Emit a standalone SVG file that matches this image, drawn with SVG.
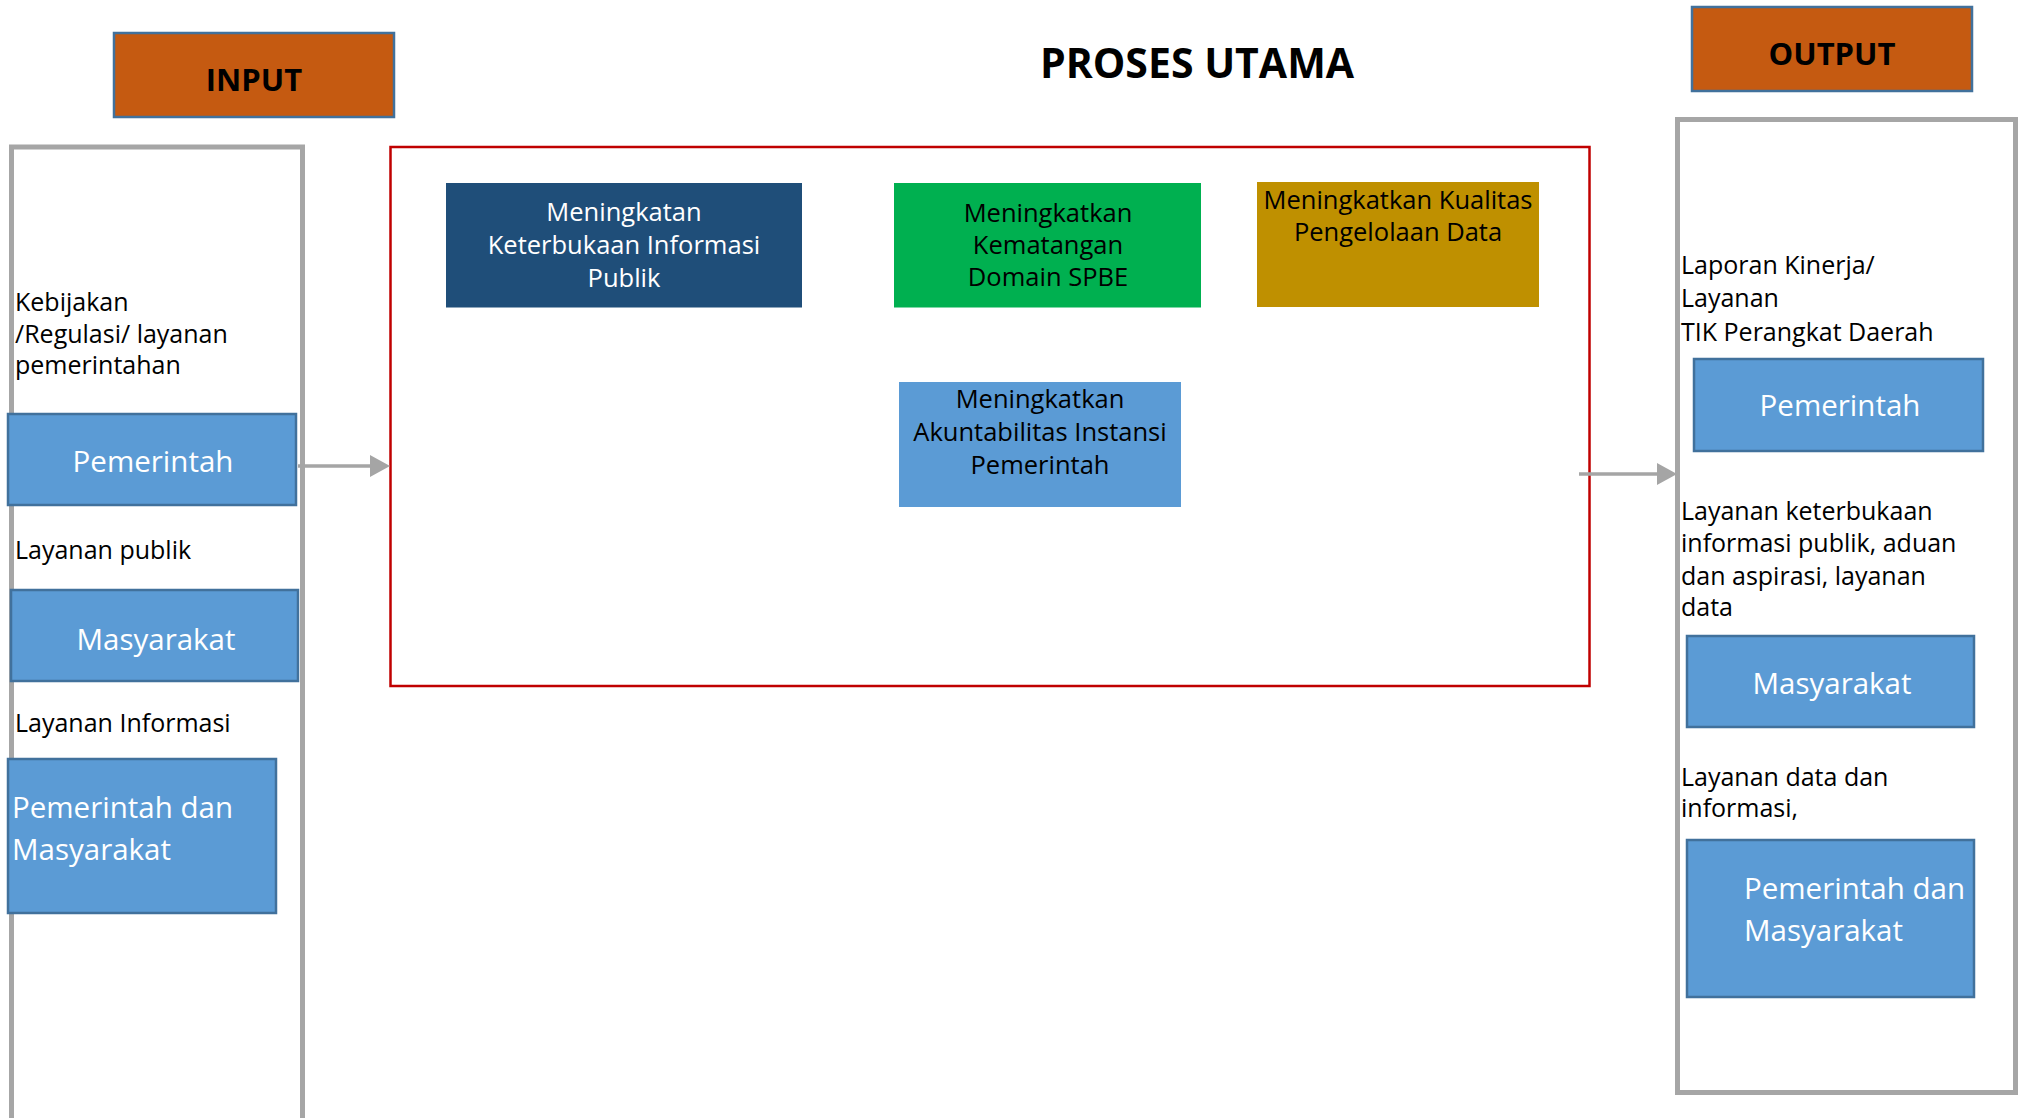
<svg xmlns="http://www.w3.org/2000/svg" width="2022" height="1118" viewBox="0 0 2022 1118">
<style>
.bg{fill:#ffffff}
.hdr{fill:#C55A11;stroke:#41719C;stroke-width:2.5}
.hdrt{font-family:"Open Sans","Liberation Sans",sans-serif;font-weight:bold;font-size:31px;fill:#000;text-anchor:middle}
.title{font-family:"Open Sans","Liberation Sans",sans-serif;font-weight:bold;font-size:41px;fill:#000;text-anchor:middle}
.cont{fill:none;stroke:#A6A6A6;stroke-width:5}
.main{fill:none;stroke:#C00000;stroke-width:2.5}
.ent{fill:#5B9BD5;stroke:#41719C;stroke-width:2.5}
.entt{font-family:"Open Sans","Liberation Sans",sans-serif;font-size:29.5px;fill:#fff}
.lbl{font-family:"Open Sans","Liberation Sans",sans-serif;font-size:25px;fill:#000}
.pt{font-family:"Open Sans","Liberation Sans",sans-serif;font-size:25.5px;text-anchor:middle}
.mid{text-anchor:middle}
.conn{stroke:#A5A5A5;stroke-width:3.5;fill:none}
</style>
<defs>
<marker id="ah" markerUnits="userSpaceOnUse" markerWidth="20" markerHeight="22" refX="12" refY="11" orient="auto">
<path d="M0,0 L20,11 L0,22 Z" fill="#A5A5A5"/>
</marker>
</defs>
<rect class="bg" x="0" y="0" width="2022" height="1118"/>

<g id="input-header">
<rect class="hdr" x="114" y="33" width="280" height="84"/>
<text class="hdrt" x="254" y="91">INPUT</text>
</g>
<g id="title">
<text class="title" x="1197" y="78">PROSES UTAMA</text>
</g>
<g id="output-header">
<rect class="hdr" x="1692" y="7" width="280" height="84"/>
<text class="hdrt" x="1832" y="65">OUTPUT</text>
</g>

<g id="input-container">
<rect class="cont" x="11.5" y="147" width="291" height="1000"/>
<text class="lbl" x="15" y="311">Kebijakan</text>
<text class="lbl" x="15" y="343">/Regulasi/ layanan</text>
<text class="lbl" x="15" y="374">pemerintahan</text>
<text class="lbl" x="15" y="559">Layanan publik</text>
<text class="lbl" x="15" y="732">Layanan Informasi</text>
</g>
<g id="in-pemerintah">
<rect class="ent" x="8" y="414" width="288" height="91"/>
<text class="entt mid" x="153" y="472">Pemerintah</text>
</g>
<g id="in-masyarakat">
<rect class="ent" x="11" y="590" width="287" height="91"/>
<text class="entt mid" x="156" y="650">Masyarakat</text>
</g>
<g id="in-pemerintah-masyarakat">
<rect class="ent" x="8" y="759" width="268" height="154"/>
<text class="entt" x="12" y="818">Pemerintah dan</text>
<text class="entt" x="12" y="860">Masyarakat</text>
</g>

<g id="proses-utama">
<rect class="main" x="390.5" y="147" width="1199" height="539"/>
</g>
<g id="p-keterbukaan">
<rect x="446" y="183" width="356" height="124.5" fill="#1F4E79"/>
<text class="pt" fill="#fff" x="624" y="221">Meningkatan</text>
<text class="pt" fill="#fff" x="624" y="254">Keterbukaan Informasi</text>
<text class="pt" fill="#fff" x="624" y="287">Publik</text>
</g>
<g id="p-spbe">
<rect x="894" y="183" width="307" height="124.5" fill="#00B050"/>
<text class="pt" fill="#000" x="1048" y="222">Meningkatkan</text>
<text class="pt" fill="#000" x="1048" y="254">Kematangan</text>
<text class="pt" fill="#000" x="1048" y="286">Domain SPBE</text>
</g>
<g id="p-data">
<rect x="1257" y="182" width="282" height="125" fill="#BF9000"/>
<text class="pt" fill="#000" x="1398" y="209">Meningkatkan Kualitas</text>
<text class="pt" fill="#000" x="1398" y="241">Pengelolaan Data</text>
</g>
<g id="p-akuntabilitas">
<rect x="899" y="382" width="282" height="125" fill="#5B9BD5"/>
<text class="pt" fill="#000" x="1040" y="408">Meningkatkan</text>
<text class="pt" fill="#000" x="1040" y="441">Akuntabilitas Instansi</text>
<text class="pt" fill="#000" x="1040" y="474">Pemerintah</text>
</g>

<g id="output-container">
<rect class="cont" x="1677.5" y="119.5" width="338" height="973"/>
<text class="lbl" x="1681" y="274">Laporan Kinerja/</text>
<text class="lbl" x="1681" y="307">Layanan</text>
<text class="lbl" x="1681" y="341">TIK Perangkat Daerah</text>
<text class="lbl" x="1681" y="520">Layanan keterbukaan</text>
<text class="lbl" x="1681" y="552">informasi publik, aduan</text>
<text class="lbl" x="1681" y="585">dan aspirasi, layanan</text>
<text class="lbl" x="1681" y="616">data</text>
<text class="lbl" x="1681" y="786">Layanan data dan</text>
<text class="lbl" x="1681" y="817">informasi,</text>
</g>
<g id="out-pemerintah">
<rect class="ent" x="1694" y="359" width="289" height="92"/>
<text class="entt mid" x="1840" y="416">Pemerintah</text>
</g>
<g id="out-masyarakat">
<rect class="ent" x="1687" y="636" width="287" height="91"/>
<text class="entt mid" x="1832" y="694">Masyarakat</text>
</g>
<g id="out-pemerintah-masyarakat">
<rect class="ent" x="1687" y="840" width="287" height="157"/>
<text class="entt" x="1744" y="899">Pemerintah dan</text>
<text class="entt" x="1744" y="941">Masyarakat</text>
</g>

<g id="connectors">
<line class="conn" x1="298" y1="466" x2="382" y2="466" marker-end="url(#ah)"/>
<line class="conn" x1="1579" y1="474" x2="1669" y2="474" marker-end="url(#ah)"/>
</g>
</svg>
